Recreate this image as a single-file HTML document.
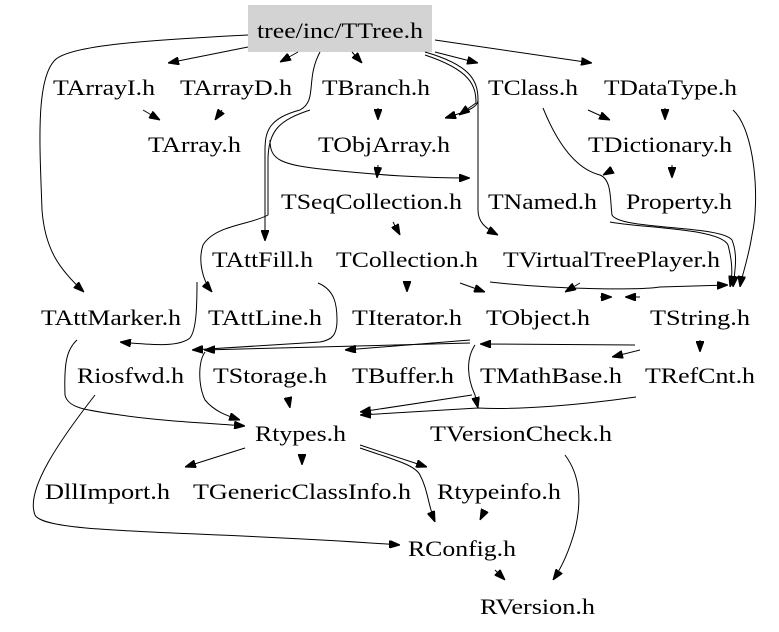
<!DOCTYPE html>
<html><head><meta charset="utf-8"><style>
html,body{margin:0;padding:0;background:#fff;}
svg{display:block;}
text{font-family:"Liberation Serif",serif;font-size:22px;fill:#000;}
path{fill:none;stroke:#000;stroke-width:1;}
</style></head><body>
<svg width="779" height="632" viewBox="0 0 779 632" xmlns="http://www.w3.org/2000/svg">
<defs><marker id="a" markerWidth="11" markerHeight="8" refX="11" refY="4" orient="auto" markerUnits="userSpaceOnUse"><path d="M0,0 L11,4 L0,8 z" style="fill:#000;stroke:#000"/></marker></defs>
<rect x="248" y="5" width="184" height="47" fill="#d3d3d3"/>
<g>
<text x="257" y="38" textLength="166" lengthAdjust="spacingAndGlyphs">tree/inc/TTree.h</text>
<text x="53" y="95" textLength="102" lengthAdjust="spacingAndGlyphs">TArrayI.h</text>
<text x="180" y="95" textLength="112" lengthAdjust="spacingAndGlyphs">TArrayD.h</text>
<text x="322" y="95" textLength="108" lengthAdjust="spacingAndGlyphs">TBranch.h</text>
<text x="488" y="95" textLength="90" lengthAdjust="spacingAndGlyphs">TClass.h</text>
<text x="604" y="95" textLength="133" lengthAdjust="spacingAndGlyphs">TDataType.h</text>
<text x="148" y="152" textLength="93" lengthAdjust="spacingAndGlyphs">TArray.h</text>
<text x="318" y="152" textLength="132" lengthAdjust="spacingAndGlyphs">TObjArray.h</text>
<text x="588" y="152" textLength="144" lengthAdjust="spacingAndGlyphs">TDictionary.h</text>
<text x="281" y="209" textLength="181" lengthAdjust="spacingAndGlyphs">TSeqCollection.h</text>
<text x="488" y="209" textLength="109" lengthAdjust="spacingAndGlyphs">TNamed.h</text>
<text x="626" y="209" textLength="106" lengthAdjust="spacingAndGlyphs">Property.h</text>
<text x="212" y="267" textLength="101" lengthAdjust="spacingAndGlyphs">TAttFill.h</text>
<text x="336" y="267" textLength="142" lengthAdjust="spacingAndGlyphs">TCollection.h</text>
<text x="503" y="267" textLength="217" lengthAdjust="spacingAndGlyphs">TVirtualTreePlayer.h</text>
<text x="41" y="325" textLength="140" lengthAdjust="spacingAndGlyphs">TAttMarker.h</text>
<text x="208" y="325" textLength="114" lengthAdjust="spacingAndGlyphs">TAttLine.h</text>
<text x="352" y="325" textLength="110" lengthAdjust="spacingAndGlyphs">TIterator.h</text>
<text x="486" y="325" textLength="104" lengthAdjust="spacingAndGlyphs">TObject.h</text>
<text x="650" y="325" textLength="100" lengthAdjust="spacingAndGlyphs">TString.h</text>
<text x="77" y="383" textLength="107" lengthAdjust="spacingAndGlyphs">Riosfwd.h</text>
<text x="213" y="383" textLength="114" lengthAdjust="spacingAndGlyphs">TStorage.h</text>
<text x="352" y="383" textLength="102" lengthAdjust="spacingAndGlyphs">TBuffer.h</text>
<text x="480" y="383" textLength="142" lengthAdjust="spacingAndGlyphs">TMathBase.h</text>
<text x="645" y="383" textLength="110" lengthAdjust="spacingAndGlyphs">TRefCnt.h</text>
<text x="255" y="441" textLength="91" lengthAdjust="spacingAndGlyphs">Rtypes.h</text>
<text x="430" y="441" textLength="182" lengthAdjust="spacingAndGlyphs">TVersionCheck.h</text>
<text x="45" y="499" textLength="125" lengthAdjust="spacingAndGlyphs">DllImport.h</text>
<text x="193" y="499" textLength="218" lengthAdjust="spacingAndGlyphs">TGenericClassInfo.h</text>
<text x="437" y="499" textLength="124" lengthAdjust="spacingAndGlyphs">Rtypeinfo.h</text>
<text x="408" y="556" textLength="108" lengthAdjust="spacingAndGlyphs">RConfig.h</text>
<text x="480" y="614" textLength="115" lengthAdjust="spacingAndGlyphs">RVersion.h</text>
</g>
<g marker-end="url(#a)">
<path d="M248,35 C150,40 70,45 55,60 C35,80 40,150 42,210 C45,250 60,270 84,292"/>
<path d="M248,47 L168,63"/>
<path d="M298,52 L280,62"/>
<path d="M352,52 L362,63"/>
<path d="M320,52 C305,80 318,100 300,110 C270,118 265,130 265,150 L265,241"/>
<path d="M310,110 C280,120 268,130 268,160 L268,215 C250,225 215,225 203,245 C198,260 202,280 212,292"/>
<path d="M270,140 C270,160 280,165 330,170 C380,175 420,178 470,178"/>
<path d="M435,52 L478,63"/>
<path d="M435,40 L592,63"/>
<path d="M425,52 C470,65 478,80 478,100 C478,108 465,112 445,118"/>
<path d="M425,55 C470,70 476,85 476,103 L459,115"/>
<path d="M478,100 L478,210 C478,222 485,228 498,235"/>
<path d="M143,110 L160,120"/>
<path d="M222,110 L215,120"/>
<path d="M378,108 L378,120"/>
<path d="M378,165 L377,178"/>
<path d="M393,222 L400,235"/>
<path d="M588,110 L610,120"/>
<path d="M665,108 L665,120"/>
<path d="M672,165 L672,178"/>
<path d="M543,108 C560,150 580,170 600,175 C612,180 610,200 612,215 C620,230 720,225 732,240 C738,255 735,270 733,287"/>
<path d="M612,170 L603,175"/>
<path d="M733,110 C755,130 760,200 752,235 C748,260 742,275 740,287"/>
<path d="M610,222 C640,228 720,228 728,245 C732,260 733,275 730,287"/>
<path d="M460,283 L485,292"/>
<path d="M407,282 L407,292"/>
<path d="M580,283 L565,292"/>
<path d="M490,282 C560,290 640,290 660,287 L728,285"/>
<path d="M640,297 L625,297"/>
<path d="M600,297 L612,297"/>
<path d="M318,283 C335,290 337,305 337,320 C337,335 332,340 320,342 L192,350"/>
<path d="M197,282 C197,310 196,330 190,338 C180,346 160,346 120,342"/>
<path d="M470,343 L204,350"/>
<path d="M470,340 L345,350"/>
<path d="M640,350 L612,357"/>
<path d="M635,345 L480,344"/>
<path d="M700,340 L700,352"/>
<path d="M475,345 C465,360 468,380 475,395 L478,408"/>
<path d="M636,397 C580,405 520,410 478,408 L360,415"/>
<path d="M472,395 L360,412"/>
<path d="M288,398 L290,408"/>
<path d="M77,340 C66,350 64,365 65,395 C68,408 85,410 120,415 C170,422 210,423 245,426"/>
<path d="M205,352 C198,362 198,385 205,400 C215,412 228,416 240,420"/>
<path d="M95,395 C60,440 25,490 35,515 C45,535 200,530 400,545"/>
<path d="M245,448 L185,467"/>
<path d="M302,455 L302,465"/>
<path d="M360,445 L427,467"/>
<path d="M360,448 C395,460 415,465 420,475 C428,490 428,505 435,522"/>
<path d="M485,510 L480,520"/>
<path d="M495,570 L505,580"/>
<path d="M565,455 C580,475 582,500 575,530 C568,555 560,570 553,580"/>
</g>
</svg>
</body></html>
